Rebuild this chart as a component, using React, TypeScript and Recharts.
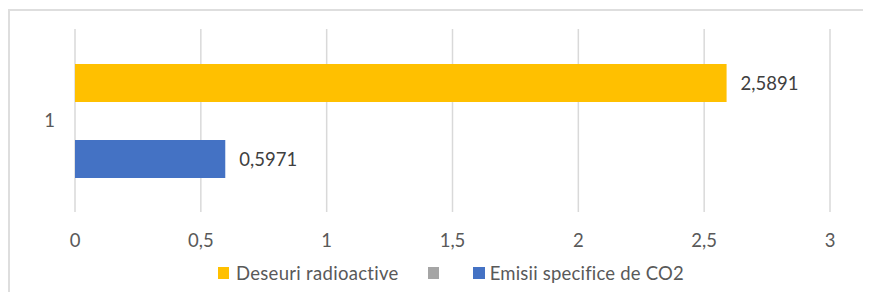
import React from "react";
import { BarChart, Bar, XAxis, YAxis, CartesianGrid, Legend, LabelList } from "recharts";

const categories = ["1"];
const seriesNames = ["Deseuri radioactive", "", "Emisii specifice de CO2"];
const deseuriValues = [2.5891];
const emptyValues: (number | null)[] = [null];
const emisiiValues = [0.5971];
const xTicks = [0, 0.5, 1, 1.5, 2, 2.5, 3];

const colors = ["#FFC000", "#A5A5A5", "#4472C4"];

const data = categories.map((c, i) => ({
  name: c,
  deseuri: deseuriValues[i],
  empty: emptyValues[i],
  emisii: emisiiValues[i],
}));

const fmt = (v: any) => (v == null ? "" : String(v).replace(".", ","));
const FONT = "Lato, 'Liberation Sans', sans-serif";
const FS = 18.5;

const LegendContent = () => (
  <div
    style={{
      display: "flex",
      alignItems: "center",
      paddingLeft: 210,
      fontFamily: FONT,
      fontSize: FS,
      color: "#595959",
      height: 20,
      whiteSpace: "nowrap",
    }}
  >
    <span style={{ width: 11, height: 12, background: colors[0], display: "inline-block" }} />
    <span style={{ marginLeft: 7, letterSpacing: 0.3 }}>{seriesNames[0]}</span>
    <span style={{ width: 11, height: 12, background: colors[1], display: "inline-block", marginLeft: 29 }} />
    <span style={{ marginLeft: 0 }}>{seriesNames[1]}</span>
    <span style={{ width: 12, height: 12, background: colors[2], display: "inline-block", marginLeft: 34 }} />
    <span style={{ marginLeft: 5, letterSpacing: 0.2 }}>{seriesNames[2]}</span>
  </div>
);

export default function App() {
  return (
    <div style={{ position: "relative", width: 863, height: 284, overflow: "hidden" }}>
      <div
        style={{
          position: "absolute",
          left: 0,
          top: 1,
          width: 863,
          height: 283,
          borderTop: "2px solid #DEDEDE",
          borderLeft: "2px solid #DEDEDE",
          boxSizing: "border-box",
        }}
      />
      <div style={{ position: "absolute", left: 0, top: 0 }}>
        <BarChart
          width={840}
          height={284}
          data={data}
          layout="vertical"
          margin={{ top: 21, right: 18, left: 0, bottom: 20 }}
          barSize={38}
          barGap={0}
        >
          <CartesianGrid horizontal={false} vertical={true} stroke="#D9D9D9" strokeWidth={1.5} />
          <XAxis
            type="number"
            domain={[0, 3]}
            ticks={xTicks}
            tickFormatter={fmt}
            axisLine={false}
            tickLine={false}
            height={40}
            tickMargin={16}
            tick={{ fill: "#595959", fontSize: FS, fontFamily: FONT }}
            interval={0}
          />
          <YAxis
            type="category"
            dataKey="name"
            axisLine={false}
            tickLine={false}
            width={67}
            tickMargin={14}
            tick={{ fill: "#595959", fontSize: FS, fontFamily: FONT }}
          />
          <Legend
            content={<LegendContent />}
            wrapperStyle={{ top: 255, left: 0, width: 840, height: 20, bottom: "auto" }}
          />
          <Bar dataKey="deseuri" name={seriesNames[0]} fill={colors[0]} isAnimationActive={false}>
            <LabelList
              dataKey="deseuri"
              position="right"
              offset={14}
              formatter={fmt}
              style={{ fill: "#404040", fontSize: FS, fontFamily: FONT }}
            />
          </Bar>
          <Bar dataKey="empty" name={seriesNames[1]} fill={colors[1]} isAnimationActive={false} />
          <Bar dataKey="emisii" name={seriesNames[2]} fill={colors[2]} isAnimationActive={false}>
            <LabelList
              dataKey="emisii"
              position="right"
              offset={14}
              formatter={fmt}
              style={{ fill: "#404040", fontSize: FS, fontFamily: FONT }}
            />
          </Bar>
        </BarChart>
      </div>
    </div>
  );
}
